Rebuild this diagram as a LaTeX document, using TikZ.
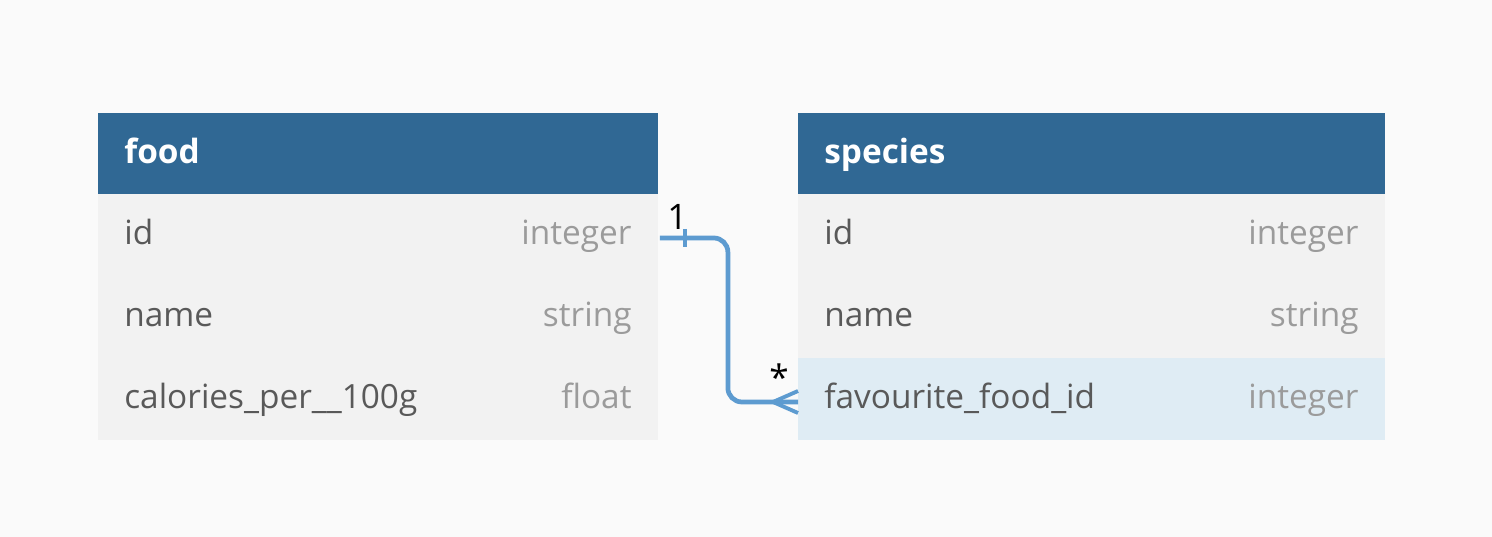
\documentclass[tikz,border=0pt]{standalone}
\usepackage{fontspec}
\setmainfont{Open Sans}
\usepackage{tikz}

\definecolor{headblue}{HTML}{306894}
\definecolor{rowgray}{HTML}{F2F2F2}
\definecolor{keyblue}{HTML}{DFECF4}
\definecolor{linkblue}{HTML}{5D9BD0}
\definecolor{namegray}{HTML}{595959}
\definecolor{typegray}{HTML}{9B9B9B}
\definecolor{paper}{HTML}{FAFAFA}

\tikzset{
  tbl/.style={anchor=north west, inner sep=0pt, outer sep=0pt},
  header/.style={tbl, fill=headblue, minimum height=1.62cm},
  row/.style={tbl, fill=rowgray, minimum height=1.64cm},
  fkrow/.style={row, fill=keyblue},
  title/.style={anchor=base west, inner sep=0pt, text=white, font=\fontsize{19}{23}\selectfont\bfseries},
  field/.style={anchor=base west, inner sep=0pt, text=namegray, font=\fontsize{19}{23}\selectfont},
  ftype/.style={anchor=base east, inner sep=0pt, text=typegray, font=\fontsize{19}{23}\selectfont},
  link/.style={draw=linkblue, line width=2.7pt, rounded corners=8pt}
}

\begin{document}
\begin{tikzpicture}[x=0.02cm,y=-0.02cm]
   \fill[paper] (0,0) rectangle (1492,537);
   \useasboundingbox (0,0) rectangle (1492,537);

   % food
   \node[header, minimum width=11.2cm] (food) at (98,113) {};
   \node[row, minimum width=11.2cm] (food-id) at (98,194) {};
   \node[row, minimum width=11.2cm] (food-name) at (98,276) {};
   \node[row, minimum width=11.2cm] (food-cal) at (98,358) {};

   \node[title] at ([xshift=0.52cm,yshift=-0.2cm]food.west) {food};
   \node[field] at ([xshift=0.52cm,yshift=-0.2cm]food-id.west) {id};
   \node[field] at ([xshift=0.52cm,yshift=-0.2cm]food-name.west) {name};
   \node[field] at ([xshift=0.52cm,yshift=-0.2cm]food-cal.west) {calories\_per\_\_100g};
   \node[ftype] at ([xshift=-0.52cm,yshift=-0.2cm]food-id.east) {integer};
   \node[ftype] at ([xshift=-0.52cm,yshift=-0.2cm]food-name.east) {string};
   \node[ftype] at ([xshift=-0.52cm,yshift=-0.2cm]food-cal.east) {float};

   % species
   \node[header, minimum width=11.74cm] (species) at (798,113) {};
   \node[row, minimum width=11.74cm] (sp-id) at (798,194) {};
   \node[row, minimum width=11.74cm] (sp-name) at (798,276) {};
   \node[fkrow, minimum width=11.74cm] (sp-fav) at (798,358) {};

   \node[title] at ([xshift=0.52cm,yshift=-0.2cm]species.west) {species};
   \node[field] at ([xshift=0.52cm,yshift=-0.2cm]sp-id.west) {id};
   \node[field] at ([xshift=0.52cm,yshift=-0.2cm]sp-name.west) {name};
   \node[field] at ([xshift=0.52cm,yshift=-0.2cm]sp-fav.west) {favourite\_food\_id};
   \node[ftype] at ([xshift=-0.52cm,yshift=-0.2cm]sp-id.east) {integer};
   \node[ftype] at ([xshift=-0.52cm,yshift=-0.2cm]sp-name.east) {string};
   \node[ftype] at ([xshift=-0.52cm,yshift=-0.2cm]sp-fav.east) {integer};

   % relation
   \coordinate (one) at ([xshift=0.04cm,yshift=-0.06cm]food-id.east);
   \coordinate (many) at ([yshift=-0.06cm]sp-fav.west);
   \draw[link] (one) -- ++(68,0) |- (many);
   \draw[draw=linkblue, line width=2.7pt] ([xshift=0.5cm,yshift=0.18cm]one) -- ([xshift=0.5cm,yshift=-0.18cm]one);
   \draw[draw=linkblue, line width=2.2pt] ([xshift=-0.5cm]many) -- ([yshift=0.22cm]many);
   \draw[draw=linkblue, line width=2.2pt] ([xshift=-0.5cm]many) -- ([yshift=-0.22cm]many);

   \draw node[font=\fontsize{20}{24}\selectfont] at ([xshift=0.35cm,yshift=0.42cm]one) {1};
   \draw node[font=\fontsize{20}{24}\selectfont] at ([xshift=-0.38cm,yshift=0.5cm]many) {*};
\end{tikzpicture}
\end{document}
